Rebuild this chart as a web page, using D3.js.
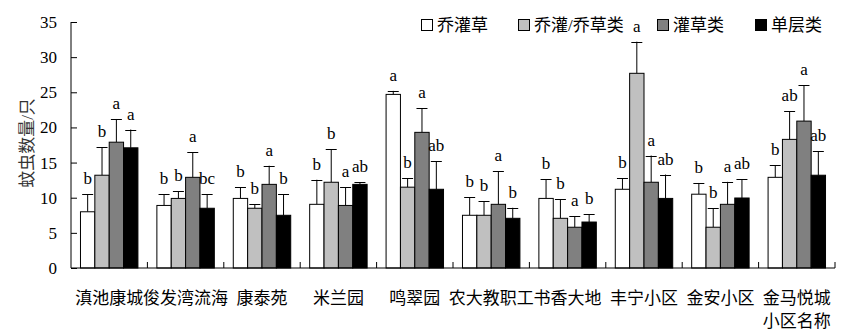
<!DOCTYPE html>
<html><head><meta charset="utf-8">
<script src="https://cdn.jsdelivr.net/npm/d3@7/dist/d3.min.js"></script>
<style>
body{margin:0;background:#fff;}
text{font-family:"Liberation Serif","Noto Sans CJK SC",serif;}
</style></head>
<body><svg id="c" width="851" height="333"></svg>
<script>
const categories = ["滇池康城","俊发湾流海","康泰苑","米兰园","鸣翠园","农大教职工","书香大地","丰宁小区","金安小区","金马悦城"];
const seriesNames = ["乔灌草","乔灌/乔草类","灌草类","单层类"];
const meanQGC = [8.0, 8.9, 9.9, 9.06, 24.7, 7.5, 9.9, 11.2, 10.5, 12.9];
const meanQG  = [13.2, 9.9, 8.5, 12.2, 11.5, 7.5, 7.07, 27.7, 5.8, 18.3];
const meanGC  = [17.9, 12.9, 11.9, 8.9, 19.3, 9.06, 5.8, 12.2, 9.06, 20.9];
const meanDC  = [17.1, 8.5, 7.5, 11.9, 11.2, 7.07, 6.54, 9.9, 9.96, 13.2];
const sdQGC = [2.5, 1.6, 1.6, 3.5, 0.5, 2.56, 2.7, 1.56, 1.6, 1.7];
const sdQG  = [4.0, 1.0, 0.6, 4.7, 1.3, 2.0, 2.7, 4.5, 2.7, 4.0];
const sdGC  = [3.3, 3.6, 2.65, 2.6, 3.4, 4.7, 1.6, 3.8, 3.2, 5.1];
const sdDC  = [2.6, 2.0, 3.0, 0.3, 4.0, 1.5, 1.1, 3.4, 2.7, 3.4];
const letQGC = ["b","b","b","b","a","b","b","b","b","b"];
const letQG  = ["b","b","b","b","b","b","b","a","b","ab"];
const letGC  = ["a","a","a","a","a","a","a","a","a","a"];
const letDC  = ["a","bc","b","ab","ab","b","b","ab","ab","ab"];
const yTicks = [0,5,10,15,20,25,30,35];
const yTitle = "蚊虫数量/只";
const xTitle = "小区名称";

const fills = ["#ffffff","#c0c0c0","#808080","#000000"];
const means = [meanQGC, meanQG, meanGC, meanDC];
const sds = [sdQGC, sdQG, sdGC, sdDC];
const lets = [letQGC, letQG, letGC, letDC];

const svg = d3.select("#c");
const L = 71, R = 835, T = 22, B = 268;
const y = d3.scaleLinear().domain([0,35]).range([B,T]);
const x0 = d3.scaleBand().domain(categories).range([L,R]).padding(0);
const x1 = d3.scaleBand().domain(d3.range(4)).range([0,x0.bandwidth()]).paddingInner(0).paddingOuter(0.66);

const rows = [];
categories.forEach((c,i)=>{
  for(let s=0;s<4;s++) rows.push({c, s, m:means[s][i], sd:sds[s][i], l:lets[s][i]});
});

const legendX = [421, 518, 657, 755];
seriesNames.forEach((n,i)=>{
  const lg = svg.append("g").attr("transform",`translate(${legendX[i]},0)`);
  lg.append("rect").attr("x",0.5).attr("y",19.5).attr("width",11).attr("height",11)
    .attr("fill",fills[i]).attr("stroke","#000");
  lg.append("text").attr("x",16).attr("y",31).attr("font-size",17).attr("fill","#000").text(n);
});

const g = svg.append("g");
const eb = g.selectAll("g.eb").data(rows).join("g");
eb.append("line")
  .attr("x1",d=>x0(d.c)+x1(d.s)+x1.bandwidth()/2).attr("x2",d=>x0(d.c)+x1(d.s)+x1.bandwidth()/2)
  .attr("y1",d=>y(d.m)).attr("y2",d=>y(d.m+d.sd)).attr("stroke","#000").attr("stroke-width",1);
eb.append("line")
  .attr("x1",d=>x0(d.c)+x1(d.s)+x1.bandwidth()/2-5.5).attr("x2",d=>x0(d.c)+x1(d.s)+x1.bandwidth()/2+5.5)
  .attr("y1",d=>Math.round(y(d.m+d.sd))+0.5).attr("y2",d=>Math.round(y(d.m+d.sd))+0.5).attr("stroke","#000").attr("stroke-width",1);

g.selectAll("rect.bar").data(rows).join("rect")
  .attr("x",d=>x0(d.c)+x1(d.s)).attr("width",x1.bandwidth())
  .attr("y",d=>y(d.m)).attr("height",d=>B-y(d.m))
  .attr("fill",d=>fills[d.s]).attr("stroke","#000").attr("stroke-width",1);

g.selectAll("text.let").data(rows).join("text")
  .attr("x",d=>x0(d.c)+x1(d.s)+x1.bandwidth()/2)
  .attr("y",d=>y(d.m+d.sd)-10)
  .attr("text-anchor","middle").attr("font-size",17).attr("fill","#000")
  .text(d=>d.l);

const ya = d3.axisLeft(y).tickValues(yTicks).tickSize(-6).tickPadding(14).tickFormat(d3.format("d"));
const yg = svg.append("g").attr("transform",`translate(${L},0)`).call(ya);
yg.select(".domain").attr("d",`M0,${T}V${B}`).attr("stroke","#000");
yg.selectAll("text").attr("font-size",17).attr("fill","#000").attr("font-family","Liberation Serif");

const xb = d3.axisBottom(x0).tickSize(0).tickPadding(0).tickFormat("");
const xg = svg.append("g").attr("transform",`translate(0,${B})`).call(xb);
xg.select(".domain").attr("d",`M${L},0H${R}`).attr("stroke","#000");
xg.selectAll(".tick").remove();
const bounds = categories.map(c=>x0(c)+x0.bandwidth());
xg.selectAll("line.bt").data(bounds).join("line")
  .attr("x1",d=>d).attr("x2",d=>d).attr("y1",0).attr("y2",-6).attr("stroke","#000");
svg.selectAll("text.cat").data(categories).join("text")
  .attr("x",d=>x0(d)+x0.bandwidth()/2).attr("y",304)
  .attr("text-anchor","middle").attr("font-size",17).attr("fill","#000")
  .text(d=>d);
svg.append("text").attr("x",x0(categories[9])+x0.bandwidth()/2).attr("y",327)
  .attr("text-anchor","middle").attr("font-size",17).attr("fill","#000").text(xTitle);

svg.append("text").attr("transform",`translate(33,143) rotate(-90)`)
  .attr("text-anchor","middle").attr("font-size",17).attr("fill","#333").text(yTitle);
</script></body></html>
